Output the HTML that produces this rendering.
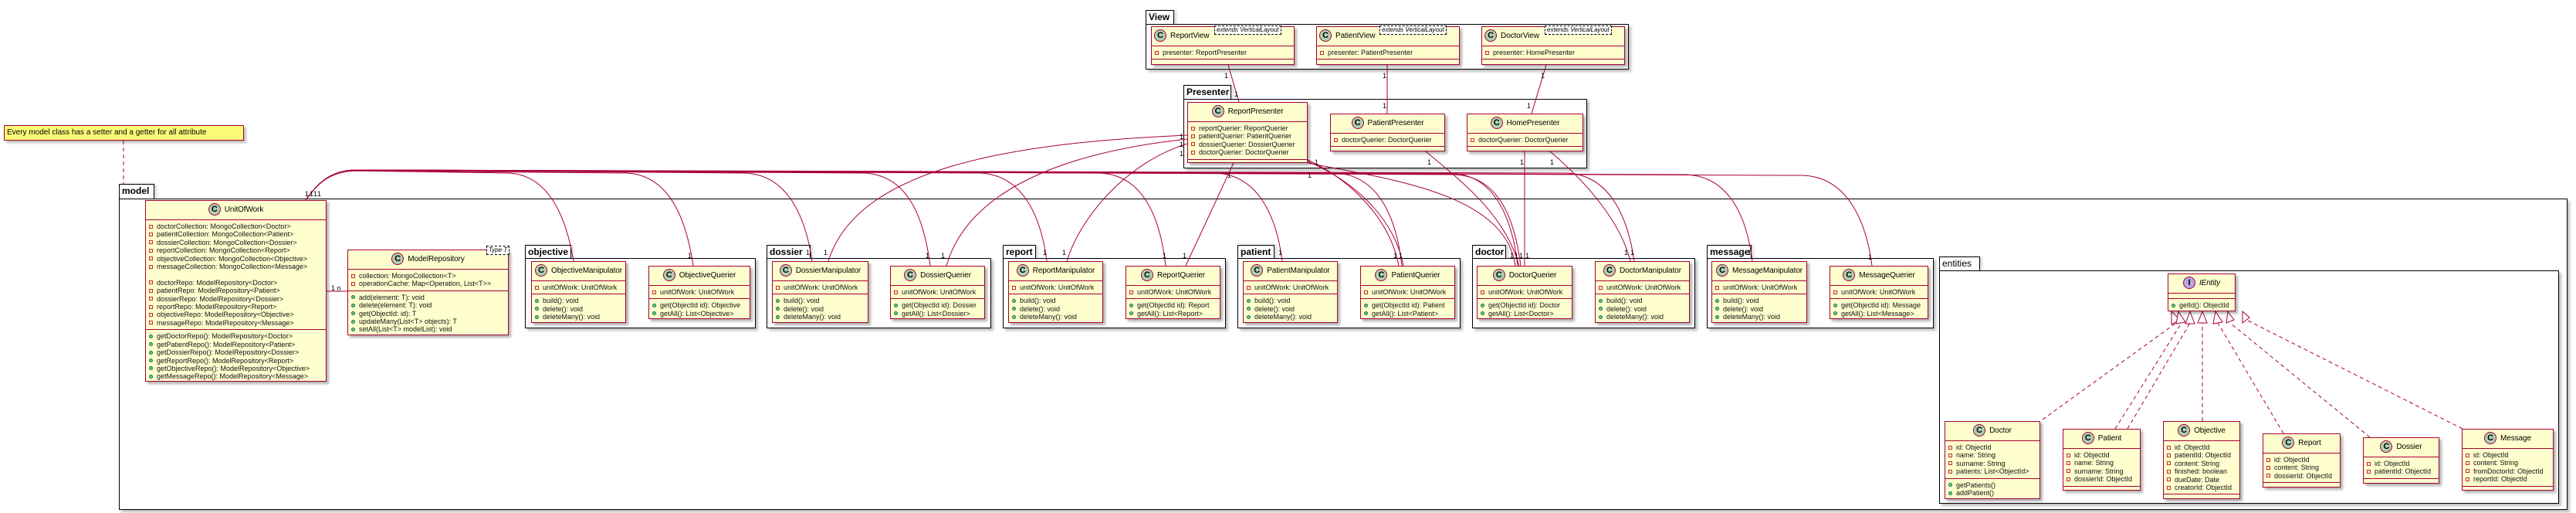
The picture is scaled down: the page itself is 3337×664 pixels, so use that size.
<!DOCTYPE html>
<html><head><meta charset="utf-8">
<style>
body{margin:0;width:3337px;height:664px;background:#fff;position:relative;overflow:hidden;font-family:"Liberation Sans",sans-serif;}
.pk{position:absolute;border:1.5px solid #000;box-sizing:border-box;box-shadow:3px 3px 3px rgba(0,0,0,.25);background:#fff}
.tab{position:absolute;border:1.5px solid #000;border-bottom:none;box-sizing:border-box;font-weight:bold;font-size:12px;line-height:16px;padding-left:3px;background:#fff;box-shadow:3px 0 3px rgba(0,0,0,.15)}
.c{position:absolute;background:#FEFECE;border:1.5px solid #A80036;box-sizing:border-box;box-shadow:3px 3px 3px rgba(0,0,0,.3);overflow:visible}
.h{height:24px;line-height:24px;font-size:10px;text-align:center;white-space:nowrap;letter-spacing:-0.1px}
.i{display:inline-block;width:16px;height:16px;border-radius:50%;background:#ADD1B2;border:1px solid #A80036;font-weight:bold;font-size:11px;line-height:15px;text-align:center;vertical-align:middle;margin-right:5px;box-sizing:border-box}
.ii{background:#B4A7E5}
.s{border-top:1.5px solid #A80036;padding:3px 0;min-height:4px}
.a{font-size:9px;line-height:10.4px;padding-left:14px;position:relative;white-space:nowrap;color:#111}
.a:before{content:"";position:absolute;left:4px;top:2.5px;width:5px;height:5px;box-sizing:border-box}
.p:before{border:1px solid #C82930}
.u:before{border-radius:50%;background:#84BE84;border:1px solid #038048}
.st{position:absolute;border:1px dashed #000;background:#fff;font-style:italic;font-size:8px;line-height:10px;padding:0 2px;white-space:nowrap}
.note{position:absolute;left:5px;top:162px;width:311px;height:20px;background:#FBFB77;border:1px solid #A80036;box-sizing:border-box;font-size:10px;line-height:18px;padding-left:3px;box-shadow:3px 3px 3px rgba(0,0,0,.25)}
.l{position:absolute;font-size:9px;line-height:10px}
svg{position:absolute;left:0;top:0}
</style></head><body>

<div class="note">Every model class has a setter and a getter for all attribute</div>

<div class="tab" style="left:154px;top:238px;width:46px;height:20px">model</div>
<div class="pk" style="left:154px;top:257px;width:3172px;height:403px"></div>

<div class="tab" style="left:1484px;top:13px;width:37px;height:19px">View</div>
<div class="pk" style="left:1484px;top:31px;width:626px;height:59px"></div>
<div class="tab" style="left:1533px;top:110px;width:62px;height:19px">Presenter</div>
<div class="pk" style="left:1533px;top:128px;width:523px;height:90px"></div>

<div class="tab" style="left:680px;top:317px;width:60px;height:18px">objective</div>
<div class="pk" style="left:680px;top:334px;width:299px;height:91px"></div>
<div class="tab" style="left:993px;top:317px;width:57px;height:18px">dossier</div>
<div class="pk" style="left:993px;top:334px;width:291px;height:91px"></div>
<div class="tab" style="left:1299px;top:317px;width:43px;height:18px">report</div>
<div class="pk" style="left:1299px;top:334px;width:289px;height:91px"></div>
<div class="tab" style="left:1603px;top:317px;width:48px;height:18px">patient</div>
<div class="pk" style="left:1603px;top:334px;width:289px;height:91px"></div>
<div class="tab" style="left:1907px;top:317px;width:44px;height:18px">doctor</div>
<div class="pk" style="left:1907px;top:334px;width:289px;height:91px"></div>
<div class="tab" style="left:2211px;top:317px;width:58px;height:18px">message</div>
<div class="pk" style="left:2211px;top:334px;width:294px;height:91px"></div>
<div class="tab" style="left:2512px;top:332px;width:53px;height:19px;font-weight:normal">entities</div>
<div class="pk" style="left:2512px;top:350px;width:803px;height:302px"></div>

<svg width="3337" height="664" viewBox="0 0 3337 664">
<g fill="none" stroke="#A80036" stroke-width="1">
<path d="M160,182 L160,238" stroke-dasharray="5,4"/>
<path d="M423,377 L450,377"/>
<path d="M396,259 C410,240 425,222 460,221 L658,224 C715,226 735,290 743,338"/>
<path d="M396,259 C410,240 425,222 460,221 L812,224 C870,227 890,290 898,344"/>
<path d="M396,259 C410,240 425,221 460,220 L966,224 C1025,227 1045,290 1052,338"/>
<path d="M396,259 C410,240 425,221 460,220 L1120,224 C1180,227 1198,290 1205,344"/>
<path d="M396,259 C410,240 425,221 460,220 L1270,224 C1330,227 1350,290 1356,338"/>
<path d="M396,259 C410,240 425,221 460,220 L1425,224 C1485,227 1504,290 1510,344"/>
<path d="M396,259 C410,240 425,221 460,220 L1575,224 C1635,227 1655,290 1661,338"/>
<path d="M396,259 C410,240 425,221 460,220 L1730,224 C1790,227 1810,290 1816,344"/>
<path d="M396,259 C410,240 425,221 460,220 L1880,224 C1940,227 1960,290 1966,344"/>
<path d="M396,259 C410,240 425,221 460,220 L1885,226 C1945,229 1963,290 1970,344"/>
<path d="M396,259 C410,240 425,221 460,220 L2030,224 C2090,227 2110,290 2117,338"/>
<path d="M396,259 C410,240 425,221 460,220 L2185,226 C2245,229 2264,290 2270,338"/>
<path d="M396,259 C410,240 425,221 460,220 L2335,227 C2395,229 2418,290 2425,344"/>
<path d="M1591,84 L1605,132"/>
<path d="M1797,84 L1797,147"/>
<path d="M2003,84 L1984,147"/>
<path d="M1538,175 C1300,185 1110,220 1073,338"/>
<path d="M1538,180 C1350,200 1250,260 1226,344"/>
<path d="M1538,186 C1460,210 1400,280 1382,338"/>
<path d="M1598,211 L1536,344"/>
<path d="M1694,207 C1745,230 1800,280 1812,344"/>
<path d="M1694,209 C1750,232 1806,280 1818,344"/>
<path d="M1694,211 C1800,232 1950,250 1963,344"/>
<path d="M1847,196 C1900,240 1950,280 1968,344"/>
<path d="M1975,196 L1975,344"/>
<path d="M2008,196 C2060,240 2100,290 2112,338"/>
</g>
<g fill="none" stroke="#A80036" stroke-width="1" stroke-dasharray="5,4">
<path d="M2646,543 L2819,418"/>
<path d="M2740,555 L2826,418"/>
<path d="M2756,555 L2837,418"/>
<path d="M2853,545 L2853,418"/>
<path d="M2958,561 L2873,418"/>
<path d="M3070,566 L2889,418"/>
<path d="M3190,555 L2910,414"/>
</g>
<g fill="#fff" stroke="#A80036" stroke-width="1">
<polygon points="2813,403 2813,420 2824,414"/>
<polygon points="2822,403 2819,419 2831,417"/>
<polygon points="2837,403 2831,419 2843,419"/>
<polygon points="2853,403 2847,418 2859,418"/>
<polygon points="2870,403 2867,419 2879,417"/>
<polygon points="2886,403 2884,418 2894,414"/>
<polygon points="2905,403 2905,418 2914,411"/>
</g>
</svg>

<div class="l" style="left:395px;top:246px">1</div><div class="l" style="left:401px;top:246px">1</div><div class="l" style="left:406px;top:246px">1</div><div class="l" style="left:411px;top:246px">1</div>
<div class="l" style="left:429px;top:368px">1 n</div>
<div class="l" style="left:1586px;top:93px">1</div><div class="l" style="left:1599px;top:117px">1</div>
<div class="l" style="left:1791px;top:93px">1</div><div class="l" style="left:1791px;top:132px">1</div>
<div class="l" style="left:1996px;top:93px">1</div><div class="l" style="left:1978px;top:132px">1</div>
<div class="l" style="left:1528px;top:172px">1</div><div class="l" style="left:1528px;top:182px">1</div><div class="l" style="left:1528px;top:194px">1</div>
<div class="l" style="left:1590px;top:222px">1</div><div class="l" style="left:1703px;top:205px">1</div><div class="l" style="left:1694px;top:222px">1</div>
<div class="l" style="left:1849px;top:205px">1</div><div class="l" style="left:1969px;top:205px">1</div><div class="l" style="left:2008px;top:205px">1</div>
<div class="l" style="left:891px;top:326px">1</div><div class="l" style="left:1044px;top:322px">1</div><div class="l" style="left:1067px;top:322px">1</div>
<div class="l" style="left:1199px;top:326px">1</div><div class="l" style="left:1219px;top:326px">1</div>
<div class="l" style="left:1351px;top:322px">1</div><div class="l" style="left:1376px;top:322px">1</div>
<div class="l" style="left:1506px;top:326px">1</div><div class="l" style="left:1532px;top:326px">1</div>
<div class="l" style="left:1656px;top:322px">1</div><div class="l" style="left:1805px;top:326px">1</div><div class="l" style="left:1812px;top:326px">1</div>
<div class="l" style="left:1956px;top:326px">1</div><div class="l" style="left:1962px;top:326px">1</div><div class="l" style="left:1968px;top:326px">1</div><div class="l" style="left:1976px;top:326px">1</div>
<div class="l" style="left:2104px;top:322px">1</div><div class="l" style="left:2112px;top:322px">1</div>
<div class="l" style="left:2264px;top:322px">1</div><div class="l" style="left:2420px;top:328px">1</div>

<div class="c" style="left:188px;top:259px;width:235px;height:235px">
<div class="h"><span class="i">C</span>UnitOfWork</div>
<div class="s">
<div class="a p">doctorCollection: MongoCollection&lt;Doctor&gt;</div>
<div class="a p">patientCollection: MongoCollection&lt;Patient&gt;</div>
<div class="a p">dossierCollection: MongoCollection&lt;Dossier&gt;</div>
<div class="a p">reportCollection: MongoCollection&lt;Report&gt;</div>
<div class="a p">objectiveCollection: MongoCollection&lt;Objective&gt;</div>
<div class="a p">messageCollection: MongoCollection&lt;Message&gt;</div>
<div class="a">&nbsp;</div>
<div class="a p">doctorRepo: ModelRepository&lt;Doctor&gt;</div>
<div class="a p">patientRepo: ModelRepository&lt;Patient&gt;</div>
<div class="a p">dossierRepo: ModelRepository&lt;Dossier&gt;</div>
<div class="a p">reportRepo: ModelRepository&lt;Report&gt;</div>
<div class="a p">objectiveRepo: ModelRepository&lt;Objective&gt;</div>
<div class="a p">messageRepo: ModelRepository&lt;Message&gt;</div>
</div>
<div class="s">
<div class="a u">getDoctorRepo(): ModelRepository&lt;Doctor&gt;</div>
<div class="a u">getPatientRepo(): ModelRepository&lt;Patient&gt;</div>
<div class="a u">getDossierRepo(): ModelRepository&lt;Dossier&gt;</div>
<div class="a u">getReportRepo(): ModelRepository&lt;Report&gt;</div>
<div class="a u">getObjectiveRepo(): ModelRepository&lt;Objective&gt;</div>
<div class="a u">getMessageRepo(): ModelRepository&lt;Message&gt;</div>
</div></div>

<div class="c" style="left:450px;top:323px;width:209px;height:111px">
<div class="h"><span class="i">C</span>ModelRepository</div>
<div class="s">
<div class="a p">collection: MongoCollection&lt;T&gt;</div>
<div class="a p">operationCache: Map&lt;Operation, List&lt;T&gt;&gt;</div>
</div>
<div class="s">
<div class="a u">add(element: T): void</div>
<div class="a u">delete(element: T): void</div>
<div class="a u">get(ObjectId: id): T</div>
<div class="a u">updateMany(List&lt;T&gt; objects): T</div>
<div class="a u">setAll(List&lt;T&gt; modelList): void</div>
</div></div>
<div class="st" style="left:630px;top:318px">Type T</div>

<div class="c" style="left:688px;top:338px;width:123px;height:80px"><div class="h"><span class="i">C</span>ObjectiveManipulator</div><div class="s"><div class="a p">unitOfWork: UnitOfWork</div></div><div class="s"><div class="a u">build(): void</div><div class="a u">delete(): void</div><div class="a u">deleteMany(): void</div></div></div>
<div class="c" style="left:840px;top:344px;width:132px;height:69px"><div class="h"><span class="i">C</span>ObjectiveQuerier</div><div class="s"><div class="a p">unitOfWork: UnitOfWork</div></div><div class="s"><div class="a u">get(ObjectId id): Objective</div><div class="a u">getAll(): List&lt;Objective&gt;</div></div></div>

<div class="c" style="left:1000px;top:338px;width:125px;height:80px"><div class="h"><span class="i">C</span>DossierManipulator</div><div class="s"><div class="a p">unitOfWork: UnitOfWork</div></div><div class="s"><div class="a u">build(): void</div><div class="a u">delete(): void</div><div class="a u">deleteMany(): void</div></div></div>
<div class="c" style="left:1153px;top:344px;width:123px;height:69px"><div class="h"><span class="i">C</span>DossierQuerier</div><div class="s"><div class="a p">unitOfWork: UnitOfWork</div></div><div class="s"><div class="a u">get(ObjectId id): Dossier</div><div class="a u">getAll(): List&lt;Dossier&gt;</div></div></div>

<div class="c" style="left:1306px;top:338px;width:123px;height:80px"><div class="h"><span class="i">C</span>ReportManipulator</div><div class="s"><div class="a p">unitOfWork: UnitOfWork</div></div><div class="s"><div class="a u">build(): void</div><div class="a u">delete(): void</div><div class="a u">deleteMany(): void</div></div></div>
<div class="c" style="left:1458px;top:344px;width:123px;height:69px"><div class="h"><span class="i">C</span>ReportQuerier</div><div class="s"><div class="a p">unitOfWork: UnitOfWork</div></div><div class="s"><div class="a u">get(ObjectId id): Report</div><div class="a u">getAll(): List&lt;Report&gt;</div></div></div>

<div class="c" style="left:1610px;top:338px;width:123px;height:80px"><div class="h"><span class="i">C</span>PatientManipulator</div><div class="s"><div class="a p">unitOfWork: UnitOfWork</div></div><div class="s"><div class="a u">build(): void</div><div class="a u">delete(): void</div><div class="a u">deleteMany(): void</div></div></div>
<div class="c" style="left:1762px;top:344px;width:123px;height:69px"><div class="h"><span class="i">C</span>PatientQuerier</div><div class="s"><div class="a p">unitOfWork: UnitOfWork</div></div><div class="s"><div class="a u">get(ObjectId id): Patient</div><div class="a u">getAll(): List&lt;Patient&gt;</div></div></div>

<div class="c" style="left:1913px;top:344px;width:124px;height:69px"><div class="h"><span class="i">C</span>DoctorQuerier</div><div class="s"><div class="a p">unitOfWork: UnitOfWork</div></div><div class="s"><div class="a u">get(ObjectId id): Doctor</div><div class="a u">getAll(): List&lt;Doctor&gt;</div></div></div>
<div class="c" style="left:2066px;top:338px;width:123px;height:80px"><div class="h"><span class="i">C</span>DoctorManipulator</div><div class="s"><div class="a p">unitOfWork: UnitOfWork</div></div><div class="s"><div class="a u">build(): void</div><div class="a u">delete(): void</div><div class="a u">deleteMany(): void</div></div></div>

<div class="c" style="left:2217px;top:338px;width:124px;height:80px"><div class="h"><span class="i">C</span>MessageManipulator</div><div class="s"><div class="a p">unitOfWork: UnitOfWork</div></div><div class="s"><div class="a u">build(): void</div><div class="a u">delete(): void</div><div class="a u">deleteMany(): void</div></div></div>
<div class="c" style="left:2370px;top:344px;width:128px;height:69px"><div class="h"><span class="i">C</span>MessageQuerier</div><div class="s"><div class="a p">unitOfWork: UnitOfWork</div></div><div class="s"><div class="a u">get(ObjectId id): Message</div><div class="a u">getAll(): List&lt;Message&gt;</div></div></div>

<div class="c" style="left:1491px;top:34px;width:186px;height:50px"><div class="h" style="text-align:left;padding-left:3px"><span class="i">C</span>ReportView</div><div class="s"><div class="a p">presenter: ReportPresenter</div></div><div class="s" style="padding:1px"></div></div>
<div class="st" style="left:1573px;top:33px">extends VerticalLayout</div>
<div class="c" style="left:1705px;top:34px;width:186px;height:50px"><div class="h" style="text-align:left;padding-left:3px"><span class="i">C</span>PatientView</div><div class="s"><div class="a p">presenter: PatientPresenter</div></div><div class="s" style="padding:1px"></div></div>
<div class="st" style="left:1787px;top:33px">extends VerticalLayout</div>
<div class="c" style="left:1919px;top:34px;width:186px;height:50px"><div class="h" style="text-align:left;padding-left:3px"><span class="i">C</span>DoctorView</div><div class="s"><div class="a p">presenter: HomePresenter</div></div><div class="s" style="padding:1px"></div></div>
<div class="st" style="left:2001px;top:33px">extends VerticalLayout</div>

<div class="c" style="left:1538px;top:132px;width:156px;height:79px"><div class="h"><span class="i">C</span>ReportPresenter</div><div class="s"><div class="a p">reportQuerier: ReportQuerier</div><div class="a p">patientQuerier: PatientQuerier</div><div class="a p">dossierQuerier: DossierQuerier</div><div class="a p">doctorQuerier: DoctorQuerier</div></div><div class="s" style="padding:1px"></div></div>
<div class="c" style="left:1723px;top:147px;width:149px;height:49px"><div class="h"><span class="i">C</span>PatientPresenter</div><div class="s"><div class="a p">doctorQuerier: DoctorQuerier</div></div><div class="s" style="padding:1px"></div></div>
<div class="c" style="left:1900px;top:147px;width:151px;height:49px"><div class="h"><span class="i">C</span>HomePresenter</div><div class="s"><div class="a p">doctorQuerier: DoctorQuerier</div></div><div class="s" style="padding:1px"></div></div>

<div class="c" style="left:2808px;top:354px;width:88px;height:49px"><div class="h"><span class="i ii">I</span><i>IEntity</i></div><div class="s" style="padding:1px"></div><div class="s"><div class="a u">getId(): ObjectId</div></div></div>
<div class="c" style="left:2519px;top:545px;width:124px;height:101px"><div class="h"><span class="i">C</span>Doctor</div><div class="s"><div class="a p">id: ObjectId</div><div class="a p">name: String</div><div class="a p">surname: String</div><div class="a p">patients: List&lt;ObjectId&gt;</div></div><div class="s"><div class="a u">getPatients()</div><div class="a u">addPatient()</div></div></div>
<div class="c" style="left:2672px;top:555px;width:101px;height:80px"><div class="h"><span class="i">C</span>Patient</div><div class="s"><div class="a p">id: ObjectId</div><div class="a p">name: String</div><div class="a p">surname: String</div><div class="a p">dossierId: ObjectId</div></div><div class="s" style="padding:1px"></div></div>
<div class="c" style="left:2802px;top:545px;width:100px;height:101px"><div class="h"><span class="i">C</span>Objective</div><div class="s"><div class="a p">id: ObjectId</div><div class="a p">patientId: ObjectId</div><div class="a p">content: String</div><div class="a p">finished: boolean</div><div class="a p">dueDate: Date</div><div class="a p">creatorId: ObjectId</div></div><div class="s" style="padding:1px"></div></div>
<div class="c" style="left:2931px;top:561px;width:101px;height:70px"><div class="h"><span class="i">C</span>Report</div><div class="s"><div class="a p">id: ObjectId</div><div class="a p">content: String</div><div class="a p">dossierId: ObjectId</div></div><div class="s" style="padding:1px"></div></div>
<div class="c" style="left:3061px;top:566px;width:99px;height:60px"><div class="h"><span class="i">C</span>Dossier</div><div class="s"><div class="a p">id: ObjectId</div><div class="a p">patientId: ObjectId</div></div><div class="s" style="padding:1px"></div></div>
<div class="c" style="left:3189px;top:555px;width:119px;height:80px"><div class="h"><span class="i">C</span>Message</div><div class="s"><div class="a p">id: ObjectId</div><div class="a p">content: String</div><div class="a p">fromDoctorId: ObjectId</div><div class="a p">reportId: ObjectId</div></div><div class="s" style="padding:1px"></div></div>

</body></html>
